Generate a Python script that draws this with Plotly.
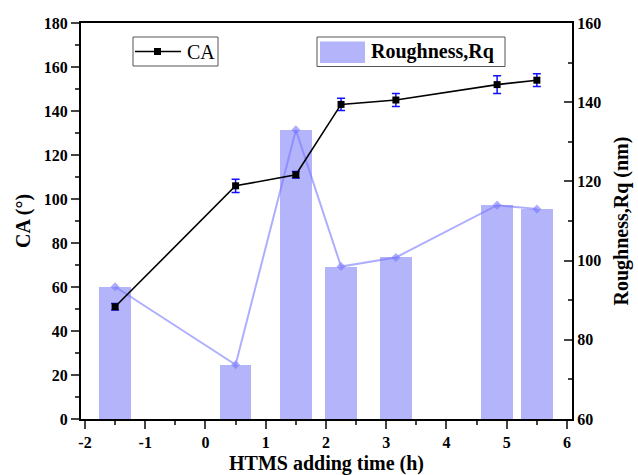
import plotly.graph_objects as go

# ---- data ----
time_h = [-1.5, 0.5, 1.5, 2.25, 3.16, 4.84, 5.5]
ca_deg = [51, 106, 111, 143, 145, 152, 154]
ca_err = [1.5, 3.0, 1.5, 2.8, 3.0, 4.0, 2.9]
rq_nm = [93.4, 73.7, 133.0, 98.5, 100.8, 114.0, 113.0]
x_tickvals = [-2, -1, 0, 1, 2, 3, 4, 5, 6]
x_ticklabels = ["-2", "-1", "0", "1", "2", "3", "4", "5", "6"]

FONT = "Liberation Serif"

# plot area in pixels (for manual legend placement)
L, R, T, B = 81, 572, 23, 419
W, H = R - L, B - T


def px(X):
    return (X - L) / W


def py(Y):
    return (B - Y) / H


fig = go.Figure()

fig.add_trace(go.Bar(
    x=time_h, y=rq_nm, width=0.52, yaxis="y",
    marker=dict(color="#b4b4fb", line=dict(width=0)),
    name="Roughness,Rq", showlegend=False,
))
fig.add_trace(go.Scatter(
    x=time_h, y=rq_nm, yaxis="y", mode="lines+markers",
    line=dict(color="rgba(120,120,255,0.6)", width=2),
    marker=dict(symbol="diamond", size=7, color="rgba(120,120,255,0.6)"),
    showlegend=False,
))
fig.add_trace(go.Scatter(
    x=time_h, y=ca_deg, yaxis="y2", mode="lines+markers",
    line=dict(color="black", width=1.6),
    marker=dict(symbol="square", size=7, color="black"),
    error_y=dict(type="data", array=ca_err, color="#1010ff", thickness=1.5, width=4),
    name="CA", showlegend=False,
))

tickfont = dict(family=FONT, size=16, color="black", weight="bold")
titlefont = dict(family=FONT, size=20, color="black", weight="bold")

fig.update_layout(
    width=638, height=475,
    margin=dict(l=L, r=638 - R, t=T, b=475 - B, autoexpand=False),
    paper_bgcolor="white", plot_bgcolor="white",
    showlegend=False,
    bargap=0,
    xaxis=dict(
        range=[-2.066, 6.083], tickmode="array", tickvals=x_tickvals, ticktext=x_ticklabels,
        ticks="outside", ticklen=8, tickwidth=2,
        minor=dict(dtick=0.5, tick0=0, ticks="outside", ticklen=4, tickwidth=2),
        showline=True, linewidth=2, linecolor="black", mirror=True,
        showgrid=False, zeroline=False, tickfont=tickfont,
        title=dict(text="HTMS adding time (h)", font=titlefont, standoff=6),
    ),
    yaxis=dict(
        side="right", range=[60, 160], tick0=60, dtick=20,
        ticks="inside", ticklen=8, tickwidth=2,
        minor=dict(dtick=10, ticks="inside", ticklen=4, tickwidth=2),
        showline=True, linewidth=2, linecolor="black",
        showgrid=False, zeroline=False, tickfont=tickfont,
        title=dict(text="Roughness,Rq (nm)", font=titlefont, standoff=14),
    ),
    yaxis2=dict(
        side="left", overlaying="y", range=[0, 180], tick0=0, dtick=20,
        ticks="outside", ticklen=8, tickwidth=2,
        minor=dict(dtick=10, ticks="outside", ticklen=4, tickwidth=2),
        showline=True, linewidth=2, linecolor="black",
        showgrid=False, zeroline=False, tickfont=tickfont,
        title=dict(text="CA (°)", font=titlefont, standoff=8),
    ),
)

# ---- manual legends (paper coordinates) ----
shapes = []
shapes.append(dict(type="rect", xref="paper", yref="paper",
                   x0=px(133), x1=px(218), y0=py(66), y1=py(37),
                   line=dict(color="#555555", width=1), fillcolor="white"))
shapes.append(dict(type="line", xref="paper", yref="paper",
                   x0=px(135), x1=px(181), y0=py(51.5), y1=py(51.5),
                   line=dict(color="black", width=1.6)))
shapes.append(dict(type="rect", xref="paper", yref="paper",
                   x0=px(154), x1=px(161), y0=py(55), y1=py(48),
                   line=dict(color="black", width=0), fillcolor="black"))
shapes.append(dict(type="rect", xref="paper", yref="paper",
                   x0=px(317), x1=px(505), y0=py(66.5), y1=py(37),
                   line=dict(color="#555555", width=1), fillcolor="white"))
shapes.append(dict(type="rect", xref="paper", yref="paper",
                   x0=px(320), x1=px(365), y0=py(63), y1=py(41.5),
                   line=dict(width=0), fillcolor="#b4b4fb"))
fig.update_layout(shapes=shapes)

fig.add_annotation(xref="paper", yref="paper", x=px(185), y=py(51.5),
                   xanchor="left", yanchor="middle", showarrow=False,
                   text="CA", font=dict(family=FONT, size=20, color="black"))
fig.add_annotation(xref="paper", yref="paper", x=px(369), y=py(51.5),
                   xanchor="left", yanchor="middle", showarrow=False,
                   text="Roughness,Rq",
                   font=dict(family=FONT, size=20, color="black", weight="bold"))

fig.write_html("out.html")
